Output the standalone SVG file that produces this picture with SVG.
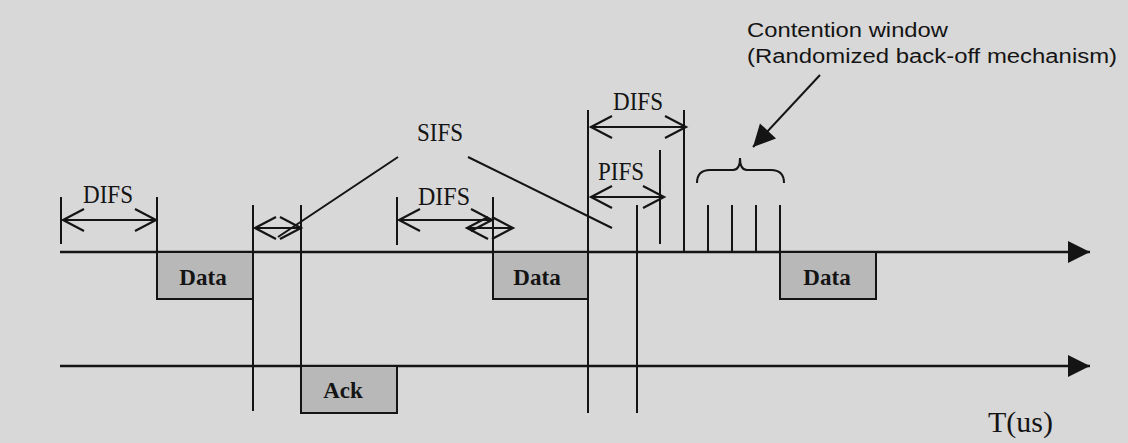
<svg xmlns="http://www.w3.org/2000/svg" width="1128" height="443" viewBox="0 0 1128 443">
<style>
.ln{stroke:#141414;stroke-width:2;fill:none}
.ax{stroke:#141414;stroke-width:2.5;fill:none}
.box{fill:#b8b8b8;stroke:#141414;stroke-width:2}
.tm{font-family:"Liberation Serif",serif;fill:#141414}
.bd{font-family:"Liberation Serif",serif;font-weight:bold;font-size:23px;fill:#141414;text-anchor:middle}
.ar{font-family:"Liberation Sans",sans-serif;font-size:20px;fill:#141414}
.dim{stroke:#141414;stroke-width:2;fill:none;marker-start:url(#open);marker-end:url(#open)}
</style>
<defs>
<marker id="open" markerUnits="userSpaceOnUse" markerWidth="28" markerHeight="28" viewBox="-25 -14 28 28" refX="0" refY="0" orient="auto-start-reverse">
<path d="M-21,-11 L0,0 L-21,11" fill="none" stroke="#141414" stroke-width="2.2"/>
</marker>
<marker id="fill" markerUnits="userSpaceOnUse" markerWidth="26" markerHeight="26" viewBox="-24 -13 26 26" refX="0" refY="0" orient="auto">
<path d="M-22,-11 L0,0 L-22,11 Z" fill="#141414"/>
</marker>
</defs>
<rect width="1128" height="443" fill="#d8d8d8"/>

<g id="connectors">
<line class="ax" x1="60" y1="252" x2="1090" y2="252" marker-end="url(#fill)"/>
<line class="ax" x1="60" y1="366" x2="1090" y2="366" marker-end="url(#fill)"/>
<line class="ln" x1="61" y1="197" x2="61" y2="244"/>
<line class="ln" x1="157" y1="197" x2="157" y2="252"/>
<line class="ln" x1="253" y1="205" x2="253" y2="411"/>
<line class="ln" x1="301" y1="205" x2="301" y2="366"/>
<line class="ln" x1="397" y1="197" x2="397" y2="245"/>
<line class="ln" x1="493" y1="197" x2="493" y2="252"/>
<line class="ln" x1="588" y1="110" x2="588" y2="413"/>
<line class="ln" x1="637" y1="205" x2="637" y2="413"/>
<line class="ln" x1="660" y1="150" x2="660" y2="244"/>
<line class="ln" x1="684" y1="110" x2="684" y2="252"/>
<line class="ln" x1="708" y1="205" x2="708" y2="252"/>
<line class="ln" x1="732" y1="205" x2="732" y2="252"/>
<line class="ln" x1="756" y1="205" x2="756" y2="252"/>
<line class="ln" x1="780" y1="205" x2="780" y2="252"/>
<line class="dim" x1="63" y1="220" x2="156" y2="220"/>
<line class="dim" x1="255" y1="228" x2="301" y2="228"/>
<line class="dim" x1="399" y1="220" x2="492" y2="220"/>
<line class="dim" x1="467" y1="228" x2="513" y2="228"/>
<line class="dim" x1="591" y1="127" x2="686" y2="127"/>
<line class="dim" x1="591" y1="197" x2="664" y2="197"/>
<line class="ln" x1="398" y1="157" x2="278" y2="237"/>
<line class="ln" x1="468" y1="157" x2="612" y2="228"/>
<path class="ln" d="M697,183 Q697,170 710,170 L733,170 Q740,170 740,158 Q740,170 747,170 L771,170 Q784,170 784,183"/>
<line class="ln" x1="820" y1="75" x2="753" y2="147" marker-end="url(#fill)"/>
</g>

<g id="data1">
<rect class="box" x="157" y="252" width="96" height="47"/>
<text class="bd" x="203" y="285">Data</text>
</g>
<g id="ack">
<rect class="box" x="301" y="366" width="96" height="47"/>
<text class="bd" x="343" y="398">Ack</text>
</g>
<g id="data2">
<rect class="box" x="493" y="252" width="95" height="47"/>
<text class="bd" x="537" y="285">Data</text>
</g>
<g id="data3">
<rect class="box" x="780" y="252" width="96" height="47"/>
<text class="bd" x="827" y="285">Data</text>
</g>

<g id="labels">
<text class="tm" x="83" y="203" font-size="25" textLength="50" lengthAdjust="spacingAndGlyphs">DIFS</text>
<text class="tm" x="417" y="141" font-size="25" textLength="46" lengthAdjust="spacingAndGlyphs">SIFS</text>
<text class="tm" x="418" y="205" font-size="25" textLength="52" lengthAdjust="spacingAndGlyphs">DIFS</text>
<text class="tm" x="613" y="110" font-size="25" textLength="50" lengthAdjust="spacingAndGlyphs">DIFS</text>
<text class="tm" x="598" y="180" font-size="25" textLength="46" lengthAdjust="spacingAndGlyphs">PIFS</text>
<text class="ar" x="747" y="37" textLength="201" lengthAdjust="spacingAndGlyphs">Contention window</text>
<text class="ar" x="747" y="63" textLength="370" lengthAdjust="spacingAndGlyphs">(Randomized back-off mechanism)</text>
<text class="tm" x="988" y="432" font-size="29" textLength="65" lengthAdjust="spacingAndGlyphs">T(us)</text>
</g>
</svg>
